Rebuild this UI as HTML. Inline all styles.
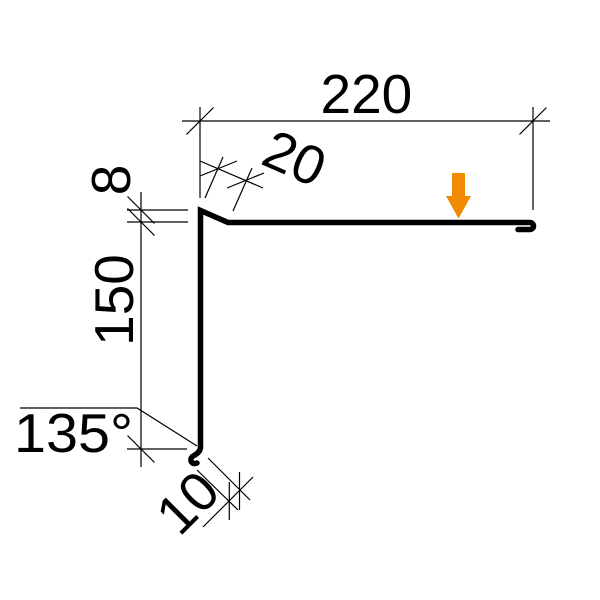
<!DOCTYPE html>
<html>
<head>
<meta charset="utf-8">
<style>
  html, body { margin: 0; padding: 0; background: #fff; }
  svg { display: block; }
  text { font-family: "Liberation Sans", Arial, sans-serif; font-size: 55px; fill: #000; }
</style>
</head>
<body>
<svg width="600" height="600" viewBox="0 0 600 600" xmlns="http://www.w3.org/2000/svg">
  <rect width="600" height="600" fill="#fff"/>

  <!-- thin dimension lines -->
  <g stroke="#000" stroke-width="1.2" fill="none" stroke-linecap="butt">
    <!-- 220 dimension -->
    <line x1="182" y1="121" x2="550" y2="121"/>
    <line x1="200" y1="107" x2="200" y2="198"/>
    <line x1="533" y1="107" x2="533" y2="210"/>
    <line x1="186.5" y1="134.5" x2="213.5" y2="107.5"/>
    <line x1="519.5" y1="134.5" x2="546.5" y2="107.5"/>

    <!-- 20 dimension -->
    <line x1="200" y1="161" x2="263" y2="188"/>
    <line x1="205" y1="198" x2="223" y2="157"/>
    <line x1="233" y1="211" x2="252" y2="168"/>
    <line x1="200" y1="176" x2="237" y2="161"/>
    <line x1="227" y1="188" x2="264" y2="173"/>

    <!-- 8 / 150 dimension -->
    <line x1="141" y1="192" x2="141" y2="467"/>
    <line x1="127" y1="210" x2="188" y2="210"/>
    <line x1="127" y1="222" x2="188" y2="222"/>
    <line x1="127" y1="449" x2="187" y2="449"/>
    <line x1="127.5" y1="196.5" x2="154.5" y2="223.5"/>
    <line x1="127.5" y1="208.5" x2="154.5" y2="235.5"/>
    <line x1="127.5" y1="435.5" x2="154.5" y2="462.5"/>

    <!-- 135° angle -->
    <polyline points="20,408 137,408 197,446"/>

    <!-- 10 dimension -->
    <line x1="208" y1="458" x2="250" y2="500"/>
    <line x1="197" y1="470" x2="238" y2="510"/>
    <line x1="203" y1="527" x2="253" y2="477"/>
    <line x1="229.3" y1="482" x2="229.3" y2="520"/>
    <line x1="239.5" y1="472" x2="239.5" y2="510"/>
  </g>

  <!-- profile -->
  <path d="M518,229.5 L530,229.5 A3.5,3.5 0 0 0 530,222.5 L228,222.5 L200.5,210.5 L200.5,447 Q200.5,452 194,455.5 Q189.5,458 191.5,462 Q193.5,464.5 197,463"
        fill="none" stroke="#000" stroke-width="5.5" stroke-linejoin="miter" stroke-miterlimit="4" stroke-linecap="round"/>

  <!-- orange arrow -->
  <polygon points="452,173 465,173 465,196 471,196 458.5,218.5 446,196 452,196" fill="#F08A00"/>

  <!-- labels -->
  <text x="320.5" y="113">220</text>
  <text x="14" y="452" textLength="119" lengthAdjust="spacingAndGlyphs">135°</text>
  <text text-anchor="middle" transform="translate(130,180) rotate(-90)">8</text>
  <text text-anchor="middle" transform="translate(133,300) rotate(-90)">150</text>
  <text text-anchor="middle" transform="translate(287,175.5) rotate(23.7)">20</text>
  <text text-anchor="middle" transform="translate(201,516) rotate(-45)">10</text>
</svg>
</body>
</html>
